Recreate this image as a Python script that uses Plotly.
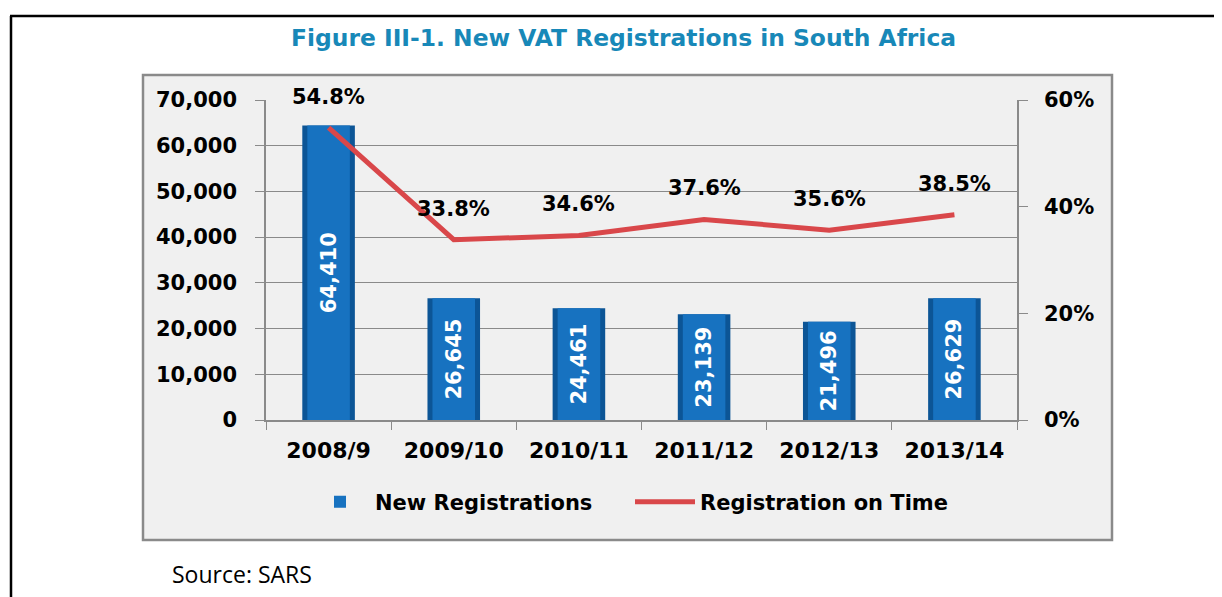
import plotly.graph_objects as go

categories = ["2008/9", "2009/10", "2010/11", "2011/12", "2012/13", "2013/14"]
new_registrations = [64410, 26645, 24461, 23139, 21496, 26629]
on_time_rate = [0.548, 0.338, 0.346, 0.376, 0.356, 0.385]
left_ticks = [0, 10000, 20000, 30000, 40000, 50000, 60000, 70000]
right_ticks = [0, 0.2, 0.4, 0.6]

W, H = 1222, 597          # reference picture size
OFF = 8                   # page body margin
L, R, T, B = 266, 1017, 100, 420  # plot area in reference pixels


def px_x(p):
    return (p - L) / (R - L)


def px_y(p):
    return (B - p) / (B - T)


FONT = "DejaVu Sans"
fig = go.Figure()

# bar edge (darker), drawn underneath
fig.add_bar(
    x=categories, y=new_registrations, name="New Registrations",
    width=0.42, showlegend=False, hoverinfo="skip",
    marker=dict(color="#0c5596", line=dict(width=0)),
    yaxis="y",
)
# bar body (brighter) with the value labels
fig.add_bar(
    x=categories, y=new_registrations, name="New Registrations",
    width=0.34,
    marker=dict(color="#1772c0", line=dict(width=0)),
    texttemplate="%{y:,}", textposition="inside", textangle=-90,
    insidetextanchor="middle",
    textfont=dict(color="white", size=21, family=FONT, weight="bold"),
    yaxis="y",
)
fig.add_scatter(
    x=categories, y=on_time_rate, name="Registration on Time",
    mode="lines", line=dict(color="#d9474a", width=5), yaxis="y2",
)

annotations = []
for c, v in zip(categories, on_time_rate):
    annotations.append(dict(
        x=c, y=v, xref="x", yref="y2", text=f"{v*100:.1f}%",
        showarrow=False, yshift=31,
        font=dict(size=21, family=FONT, color="black", weight="bold"),
    ))

annotations.append(dict(
    x=px_x(623), y=px_y(38), xref="paper", yref="paper",
    text="Figure III-1. New VAT Registrations in South Africa",
    showarrow=False, xanchor="center", yanchor="middle",
    font=dict(size=23.4, family=FONT, color="#1888b8", weight="bold"),
))
annotations.append(dict(
    x=px_x(170), y=px_y(574), xref="paper", yref="paper",
    text="Source: SARS", showarrow=False, xanchor="left", yanchor="middle",
    font=dict(size=23, family="Open Sans", color="black"),
))

shapes = [
    # chart box
    dict(type="rect", xref="paper", yref="paper",
         x0=px_x(143), x1=px_x(1112), y0=px_y(540), y1=px_y(75),
         fillcolor="#f0f0f0", line=dict(color="#8a8a8a", width=2.5), layer="below"),
    # outer frame lines
    dict(type="line", xref="paper", yref="paper",
         x0=px_x(10), x1=px_x(1222), y0=px_y(16), y1=px_y(16),
         line=dict(color="black", width=2.5)),
    dict(type="line", xref="paper", yref="paper",
         x0=px_x(11), x1=px_x(11), y0=px_y(16), y1=px_y(597),
         line=dict(color="black", width=2.5)),
]

tickfont = dict(size=21, family=FONT, color="black", weight="bold")

fig.update_layout(
    width=W - OFF, height=H - OFF, autosize=False,
    margin=dict(l=L - OFF, r=W - R, t=T - OFF, b=H - B, pad=0),
    paper_bgcolor="white", plot_bgcolor="white",
    barmode="overlay",
    showlegend=True,
    legend=dict(orientation="h", x=px_x(305), xanchor="left",
                y=px_y(502), yanchor="middle",
                font=dict(size=21, family=FONT, color="black", weight="bold"),
                bgcolor="rgba(0,0,0,0)", itemwidth=60, traceorder="normal",
                entrywidth=250, entrywidthmode="pixels"),
    xaxis=dict(
        type="category", showgrid=False, showline=True, linecolor="#8a8a8a",
        linewidth=1.5, ticks="outside", tickson="boundaries", ticklen=8,
        tickcolor="#8a8a8a", tickfont=dict(size=22, family=FONT, color="black", weight="bold"),
        ticklabelstandoff=10,
    ),
    yaxis=dict(
        range=[0, 70000], tickvals=left_ticks, tickformat=",",
        showgrid=True, gridcolor="#8a8a8a", gridwidth=1.2,
        showline=True, linecolor="#8a8a8a", linewidth=1.5,
        ticks="outside", ticklen=9, tickcolor="#8a8a8a",
        tickfont=tickfont, ticklabelstandoff=14, zeroline=False,
    ),
    yaxis2=dict(
        range=[0, 0.6], tickvals=right_ticks, tickformat=".0%",
        overlaying="y", side="right", showgrid=False,
        showline=True, linecolor="#8a8a8a", linewidth=1.5,
        ticks="outside", ticklen=9, tickcolor="#8a8a8a",
        tickfont=tickfont, ticklabelstandoff=12, zeroline=False,
    ),
    annotations=annotations,
    shapes=shapes,
)

fig.write_html("out.html")
